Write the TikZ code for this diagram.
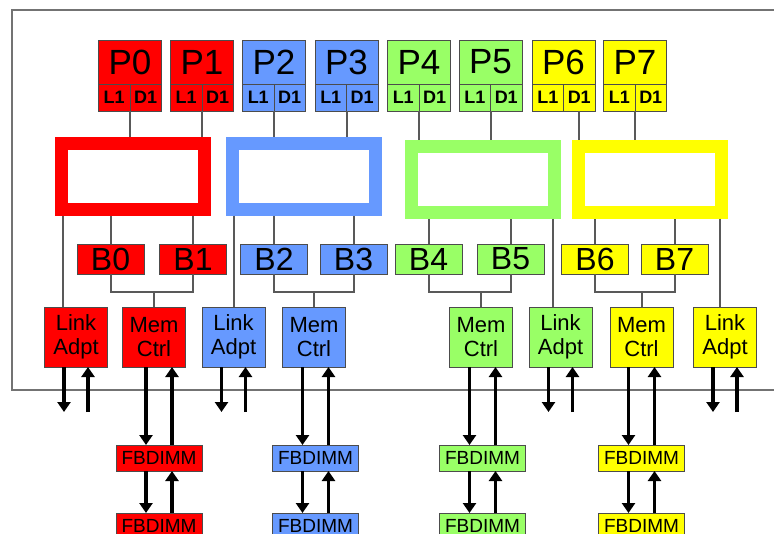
\documentclass[tikz,border=0pt]{standalone}
\usepackage{fontspec}
\setmainfont{Liberation Sans}
\usetikzlibrary{arrows.meta,positioning,calc}
\definecolor{cpred}{HTML}{FF0000}
\definecolor{cpblue}{HTML}{6699FF}
\definecolor{cpgreen}{HTML}{99FF66}
\definecolor{cpyellow}{HTML}{FFFF00}

\begin{document}
\begin{tikzpicture}[x=1pt,y=-1pt,
    box/.style={draw=black!70,line width=1pt,inner sep=0pt,outer sep=0pt},
    pbox/.style={box,minimum width=63pt,minimum height=44pt,font=\fontsize{35}{35}\selectfont},
    cell/.style={box,minimum width=31.5pt,minimum height=27pt,font=\bfseries\fontsize{18}{18}\selectfont},
    ring/.style={line width=13pt,outer sep=6.5pt,fill=white,minimum width=143pt,minimum height=66pt},
    bbox/.style={box,minimum width=67pt,minimum height=30pt,font=\fontsize{32}{32}\selectfont},
    unit/.style={box,minimum width=63pt,minimum height=60pt,align=center,font=\fontsize{22}{24}\selectfont},
    dimm/.style={box,minimum width=86pt,minimum height=26pt,font=\fontsize{19}{19}\selectfont},
    wire/.style={draw=black!65,line width=2pt},
    arr/.style={line width=3.5pt,-{Triangle[width=13pt,length=10pt]}}]
  \useasboundingbox (0,0) rectangle (774,533);
  % chip outline
  \draw[black!55,line width=2.5pt] (790,10) -| (12,390) -- (790,390);

  % Red group
  \node[pbox,fill=cpred] (p0) at (130,62) {P0};
  \node[cell,fill=cpred,anchor=north west] (p0l) at (p0.south west) {L1};
  \node[cell,fill=cpred,anchor=north east] (p0d) at (p0.south east) {D1};
  \node[pbox,fill=cpred] (p1) at (202,62) {P1};
  \node[cell,fill=cpred,anchor=north west] (p1l) at (p1.south west) {L1};
  \node[cell,fill=cpred,anchor=north east] (p1d) at (p1.south east) {D1};
  \node[ring,draw=cpred] (r0) at (133,176.5) {};
  \node[bbox,fill=cpred] (b0) at (110.5,259) {B0};
  \node[bbox,fill=cpred] (b1) at (193,259) {B1};
  \node[unit,fill=cpred] (l0) at (76,337) {Link\\Adpt};
  \node[unit,fill=cpred] (m0) at (154,337) {Mem\\Ctrl};
  \node[dimm,fill=cpred] (f0) at (159,458) {FBDIMM};
  \node[dimm,fill=cpred] (f0b) at (159,526) {FBDIMM};
  \coordinate (l0out) at (76,412);
  \coordinate (j0) at ($(m0.north)+(0,-15)$);

  % Blue group
  \node[pbox,fill=cpblue] (p2) at (274,62) {P2};
  \node[cell,fill=cpblue,anchor=north west] (p2l) at (p2.south west) {L1};
  \node[cell,fill=cpblue,anchor=north east] (p2d) at (p2.south east) {D1};
  \node[pbox,fill=cpblue] (p3) at (346.5,62) {P3};
  \node[cell,fill=cpblue,anchor=north west] (p3l) at (p3.south west) {L1};
  \node[cell,fill=cpblue,anchor=north east] (p3d) at (p3.south east) {D1};
  \node[ring,draw=cpblue] (r1) at (303.5,176) {};
  \node[bbox,fill=cpblue] (b2) at (274,259) {B2};
  \node[bbox,fill=cpblue] (b3) at (353.5,259) {B3};
  \node[unit,fill=cpblue] (l1) at (233.5,337) {Link\\Adpt};
  \node[unit,fill=cpblue] (m1) at (314,337) {Mem\\Ctrl};
  \node[dimm,fill=cpblue] (f1) at (315.5,458) {FBDIMM};
  \node[dimm,fill=cpblue] (f1b) at (315.5,526) {FBDIMM};
  \coordinate (l1out) at (233.5,412);
  \coordinate (j1) at ($(m1.north)+(0,-15)$);

  % Green group
  \node[pbox,fill=cpgreen] (p4) at (419,62) {P4};
  \node[cell,fill=cpgreen,anchor=north west] (p4l) at (p4.south west) {L1};
  \node[cell,fill=cpgreen,anchor=north east] (p4d) at (p4.south east) {D1};
  \node[pbox,fill=cpgreen] (p5) at (490.5,62) {P5};
  \node[cell,fill=cpgreen,anchor=north west] (p5l) at (p5.south west) {L1};
  \node[cell,fill=cpgreen,anchor=north east] (p5d) at (p5.south east) {D1};
  \node[ring,draw=cpgreen] (r2) at (482.5,179) {};
  \node[bbox,fill=cpgreen] (b4) at (428.5,259) {B4};
  \node[bbox,fill=cpgreen] (b5) at (510.5,259) {B5};
  \node[unit,fill=cpgreen] (m2) at (481,337) {Mem\\Ctrl};
  \node[unit,fill=cpgreen] (l2) at (560.5,337) {Link\\Adpt};
  \node[dimm,fill=cpgreen] (f2) at (482.5,458) {FBDIMM};
  \node[dimm,fill=cpgreen] (f2b) at (482.5,526) {FBDIMM};
  \coordinate (l2out) at (560.5,412);
  \coordinate (j2) at ($(m2.north)+(0,-15)$);

  % Yellow group
  \node[pbox,fill=cpyellow] (p6) at (563.5,62) {P6};
  \node[cell,fill=cpyellow,anchor=north west] (p6l) at (p6.south west) {L1};
  \node[cell,fill=cpyellow,anchor=north east] (p6d) at (p6.south east) {D1};
  \node[pbox,fill=cpyellow] (p7) at (635,62) {P7};
  \node[cell,fill=cpyellow,anchor=north west] (p7l) at (p7.south west) {L1};
  \node[cell,fill=cpyellow,anchor=north east] (p7d) at (p7.south east) {D1};
  \node[ring,draw=cpyellow] (r3) at (649.5,179) {};
  \node[bbox,fill=cpyellow] (b6) at (595,259) {B6};
  \node[bbox,fill=cpyellow] (b7) at (674.5,259) {B7};
  \node[unit,fill=cpyellow] (m3) at (641.5,337) {Mem\\Ctrl};
  \node[unit,fill=cpyellow] (l3) at (725,337) {Link\\Adpt};
  \node[dimm,fill=cpyellow] (f3) at (641.5,458) {FBDIMM};
  \node[dimm,fill=cpyellow] (f3b) at (641.5,526) {FBDIMM};
  \coordinate (l3out) at (725,412);
  \coordinate (j3) at ($(m3.north)+(0,-15)$);

  % Cores to rings
  \draw[wire] (p0d.south west) -- (p0d.south west |- r0.north);
  \draw[wire] (p1d.south west) -- (p1d.south west |- r0.north);
  \draw[wire] (p2d.south west) -- (p2d.south west |- r1.north);
  \draw[wire] (p3d.south west) -- (p3d.south west |- r1.north);
  \draw[wire] (p4d.south west) -- (p4d.south west |- r2.north);
  \draw[wire] (p5d.south west) -- (p5d.south west |- r2.north);
  \draw[wire] (p6d.south) -- (p6d.south |- r3.north);
  \draw[wire] (p7d.south west) -- (p7d.south west |- r3.north);

  % Rings to banks and links
  \draw[wire] (b0.north) -- (b0.north |- r0.south);
  \draw[wire] (b1.north) -- (b1.north |- r0.south);
  \draw[wire] (b2.north) -- (b2.north |- r1.south);
  \draw[wire] (b3.north) -- (b3.north |- r1.south);
  \draw[wire] (b4.north) -- (b4.north |- r2.south);
  \draw[wire] (b5.north) -- (b5.north |- r2.south);
  \draw[wire] (b6.north) -- (b6.north |- r3.south);
  \draw[wire] (b7.north) -- (b7.north |- r3.south);
  \draw[wire] ([xshift=8pt]r0.south west) -- ([xshift=8pt]r0.south west |- l0.north);
  \draw[wire] ([xshift=8pt]r1.south west) -- ([xshift=8pt]r1.south west |- l1.north);
  \draw[wire] ([xshift=-8pt]r2.south east) -- ([xshift=-8pt]r2.south east |- l2.north);
  \draw[wire] ([xshift=-8pt]r3.south east) -- ([xshift=-8pt]r3.south east |- l3.north);

  % Banks to memory controllers
  \draw[wire] (b0.south) |- (j0) -| (b1.south);
  \draw[wire] (j0) -- (m0.north);
  \draw[wire] (b2.south) |- (j1) -| (b3.south);
  \draw[wire] (j1) -- (m1.north);
  \draw[wire] (b4.south) |- (j2) -| (b5.south);
  \draw[wire] (j2) -- (m2.north);
  \draw[wire] (b6.south) |- (j3) -| (b7.south);
  \draw[wire] (j3) -- (m3.north);

  % Link arrows
  \draw[arr] ([xshift=-12pt]l0.south) -- ([xshift=-12pt]l0out);
  \draw[arr] ([xshift=12pt]l0out) -- ([xshift=12pt]l0.south);
  \draw[arr] ([xshift=-12pt]l1.south) -- ([xshift=-12pt]l1out);
  \draw[arr] ([xshift=12pt]l1out) -- ([xshift=12pt]l1.south);
  \draw[arr] ([xshift=-12pt]l2.south) -- ([xshift=-12pt]l2out);
  \draw[arr] ([xshift=12pt]l2out) -- ([xshift=12pt]l2.south);
  \draw[arr] ([xshift=-12pt]l3.south) -- ([xshift=-12pt]l3out);
  \draw[arr] ([xshift=12pt]l3out) -- ([xshift=12pt]l3.south);

  % Memory channels
  \draw[arr] ([xshift=-13pt]f0.north |- m0.south) -- ([xshift=-13pt]f0.north);
  \draw[arr] ([xshift=13pt]f0.north) -- ([xshift=13pt]f0.north |- m0.south);
  \draw[arr] ([xshift=-13pt]f0.south) -- ([xshift=-13pt]f0b.north);
  \draw[arr] ([xshift=13pt]f0b.north) -- ([xshift=13pt]f0.south);
  \draw[arr] ([xshift=-13pt]f1.north |- m1.south) -- ([xshift=-13pt]f1.north);
  \draw[arr] ([xshift=13pt]f1.north) -- ([xshift=13pt]f1.north |- m1.south);
  \draw[arr] ([xshift=-13pt]f1.south) -- ([xshift=-13pt]f1b.north);
  \draw[arr] ([xshift=13pt]f1b.north) -- ([xshift=13pt]f1.south);
  \draw[arr] ([xshift=-13pt]f2.north |- m2.south) -- ([xshift=-13pt]f2.north);
  \draw[arr] ([xshift=13pt]f2.north) -- ([xshift=13pt]f2.north |- m2.south);
  \draw[arr] ([xshift=-13pt]f2.south) -- ([xshift=-13pt]f2b.north);
  \draw[arr] ([xshift=13pt]f2b.north) -- ([xshift=13pt]f2.south);
  \draw[arr] ([xshift=-13pt]f3.north |- m3.south) -- ([xshift=-13pt]f3.north);
  \draw[arr] ([xshift=13pt]f3.north) -- ([xshift=13pt]f3.north |- m3.south);
  \draw[arr] ([xshift=-13pt]f3.south) -- ([xshift=-13pt]f3b.north);
  \draw[arr] ([xshift=13pt]f3b.north) -- ([xshift=13pt]f3.south);
\end{tikzpicture}
\end{document}
